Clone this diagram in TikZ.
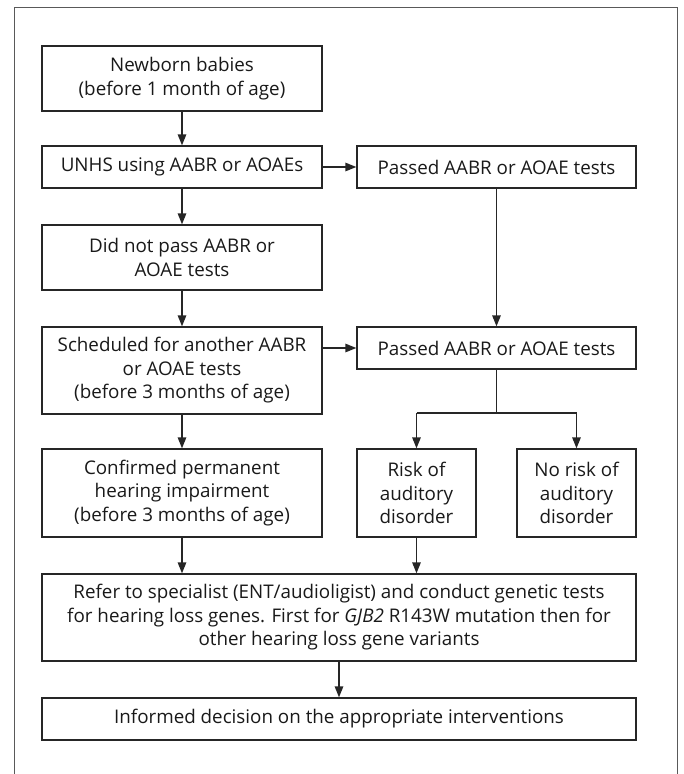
\documentclass[tikz,border=0pt]{standalone}
\usepackage{fontspec}
\setmainfont{Open Sans}
\usetikzlibrary{arrows.meta,calc}
\begin{document}
\begin{tikzpicture}[x=1pt,y=1pt,
  box/.style={draw=black!85, line width=1.3pt, rectangle, align=center, inner sep=2pt,
    font=\fontsize{18.8}{23.5}\selectfont, text=black!90},
  conn/.style={draw=black!85, line width=1.3pt, -{Triangle[length=11pt,width=8.5pt]}},
  plain/.style={draw=black!85, line width=1.3pt},
  frame/.style={draw=black!65, line width=1pt}]
\useasboundingbox (0,0) rectangle (683,-774);
\draw[frame] (14,-774) -- (14,-7) -- (677,-7) -- (677,-774);

\node[box, minimum width=280pt, minimum height=65pt] (newborn) at (182,-78.5) {Newborn babies\\(before 1 month of age)};
\node[box, minimum width=280pt, minimum height=42pt] (unhs) at (182,-167) {UNHS using AABR or AOAEs};
\node[box, minimum width=279pt, minimum height=42pt] (pass1) at (496.5,-167) {Passed AABR or AOAE tests};
\node[box, minimum width=280pt, minimum height=65pt] (notpass) at (182,-257.5) {Did not pass AABR or\\AOAE tests};
\node[box, minimum width=280pt, minimum height=87pt] (sched) at (182,-370.5) {Scheduled for another AABR\\or AOAE tests\\(before 3 months of age)};
\node[box, minimum width=279pt, minimum height=42pt] (pass2) at (496.5,-348) {Passed AABR or AOAE tests};
\node[box, minimum width=280pt, minimum height=88pt] (confirmed) at (182,-493) {Confirmed permanent\\hearing impairment\\(before 3 months of age)};
\node[box, minimum width=119pt, minimum height=88pt] (risk) at (416.5,-493) {Risk of\\auditory\\disorder};
\node[box, minimum width=119pt, minimum height=88pt] (norisk) at (576.5,-493) {No risk of\\auditory\\disorder};
\node[box, minimum width=594pt, minimum height=87pt] (refer) at (339,-617.5) {Refer to specialist (ENT/audioligist) and conduct genetic tests\\for hearing loss genes. First for \textit{GJB2} R143W mutation then for\\other hearing loss gene variants};
\node[box, minimum width=594pt, minimum height=42pt] (informed) at (339,-719) {Informed decision on the appropriate interventions};

\coordinate (split) at (496.5,-413);
\coordinate (splitL) at (416.5,-413);
\coordinate (splitR) at (576.5,-413);

\draw[conn] (newborn.south) -- (unhs.north);
\draw[conn] (unhs.east) -- (pass1.west);
\draw[conn] (unhs.south) -- (notpass.north);
\draw[conn] (pass1.south) -- (pass2.north);
\draw[conn] (notpass.south) -- (sched.north);
\draw[conn] (sched.east |- pass2.west) -- (pass2.west);
\draw[conn] (sched.south) -- (confirmed.north);
\draw[plain] (pass2.south) -- (split);
\draw[plain] (splitL) -- (splitR);
\draw[conn] (splitL) -- (risk.north);
\draw[conn] (splitR) -- (norisk.north);
\draw[conn] (confirmed.south) -- (confirmed.south |- refer.north);
\draw[conn] (risk.south) -- (risk.south |- refer.north);
\draw[conn] (refer.south) -- (informed.north);
\end{tikzpicture}
\end{document}
